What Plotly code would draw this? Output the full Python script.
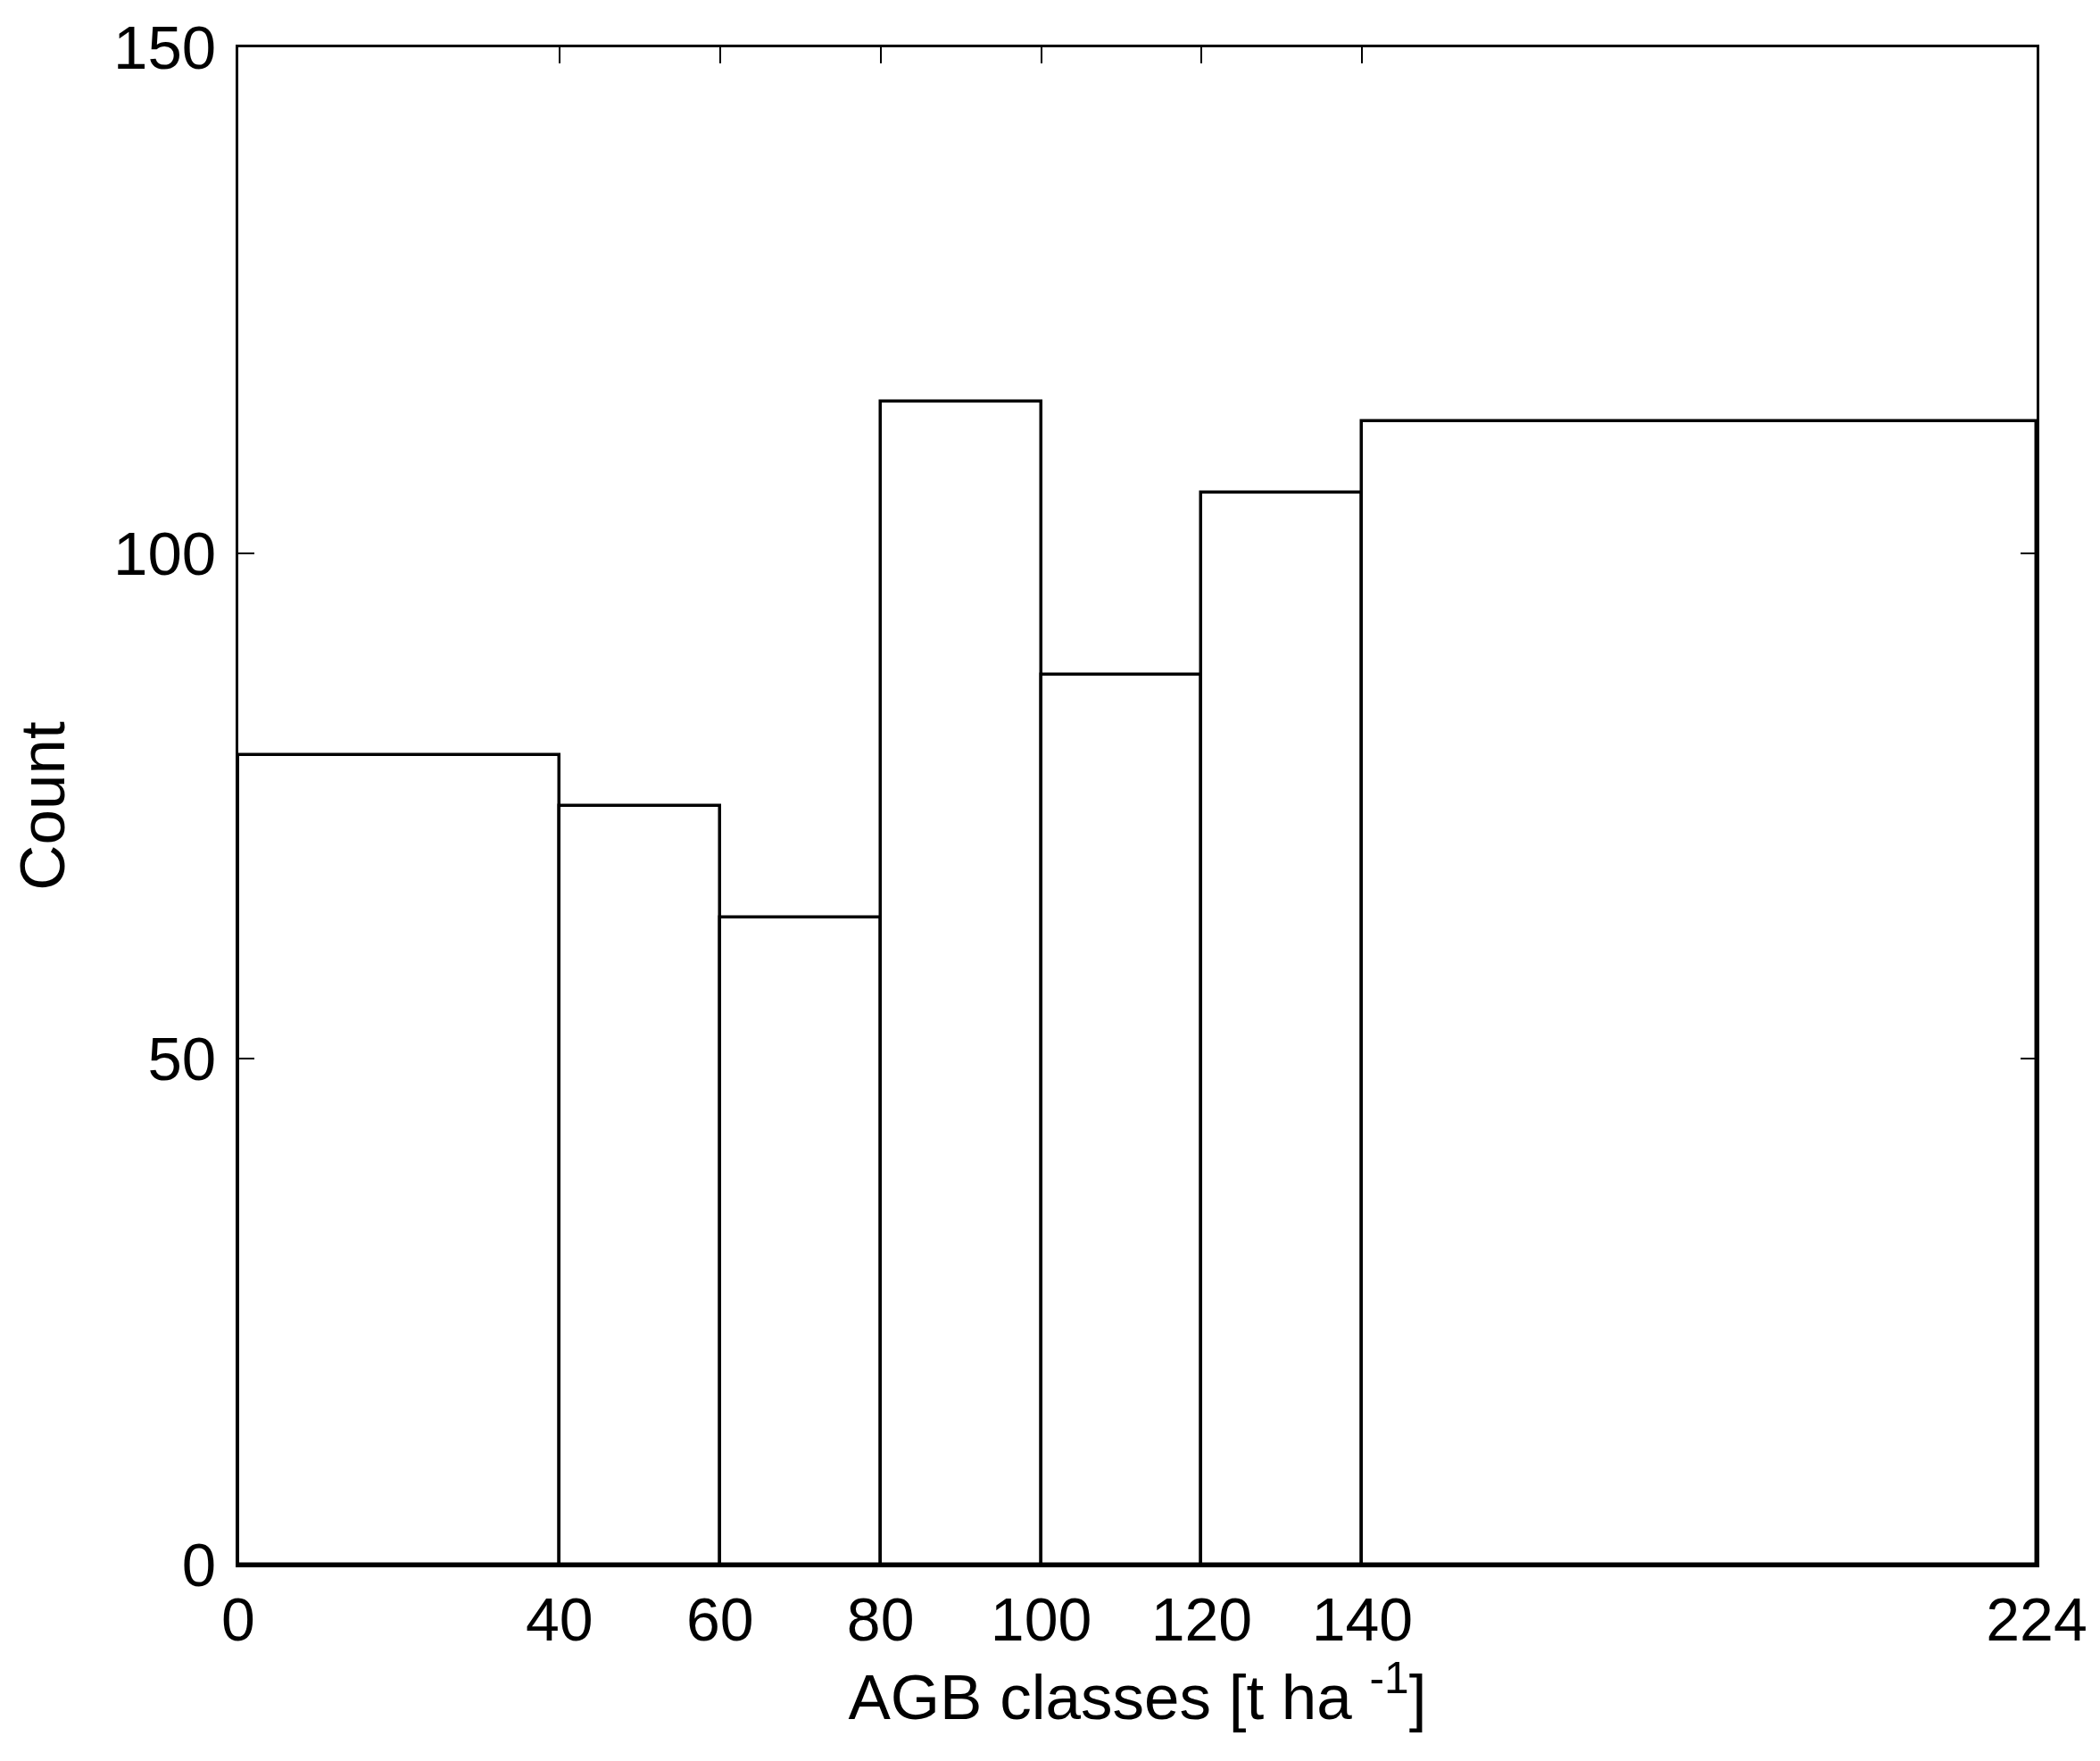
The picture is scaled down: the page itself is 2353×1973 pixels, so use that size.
import plotly.graph_objects as go

# Class edges and counts
bin_edges = [0, 40, 60, 80, 100, 120, 140, 224]
counts = [80, 75, 64, 115, 88, 106, 113]
x_ticks = [0, 40, 60, 80, 100, 120, 140, 224]
y_ticks = [0, 50, 100, 150]

centers = [(a + b) / 2 for a, b in zip(bin_edges[:-1], bin_edges[1:])]
widths = [b - a for a, b in zip(bin_edges[:-1], bin_edges[1:])]

fig = go.Figure(go.Bar(
    x=centers, y=counts, width=widths,
    marker=dict(color="white", line=dict(color="black", width=3.5)),
    showlegend=False,
))

font_family = "Liberation Sans, Arial, sans-serif"
fig.update_layout(
    width=2353, height=1973,
    margin=dict(l=259, r=79, t=45, b=228, autoexpand=False),
    plot_bgcolor="white", paper_bgcolor="white",
    font=dict(family=font_family, size=68, color="black"),
    bargap=0,
)
fig.update_xaxes(
    range=[0, 224], tickvals=x_ticks, ticktext=[str(v) for v in x_ticks],
    showgrid=False, zeroline=False, automargin=False,
    showline=True, linecolor="black", linewidth=3, mirror="ticks",
    ticks="inside", ticklen=18, tickwidth=2, tickcolor="black",
    tickfont=dict(size=68),
    title=dict(text="AGB classes [t ha <sup>-1</sup>]", font=dict(size=71), standoff=20),
)
fig.update_yaxes(
    range=[0, 150], tickvals=y_ticks,
    showgrid=False, zeroline=False, automargin=False,
    showline=True, linecolor="black", linewidth=3, mirror="ticks",
    ticks="inside", ticklen=18, tickwidth=2, tickcolor="black",
    tickfont=dict(size=69), ticklabelstandoff=8,
    title=dict(text="Count", font=dict(size=71), standoff=40),
)

fig.write_html("out.html")
